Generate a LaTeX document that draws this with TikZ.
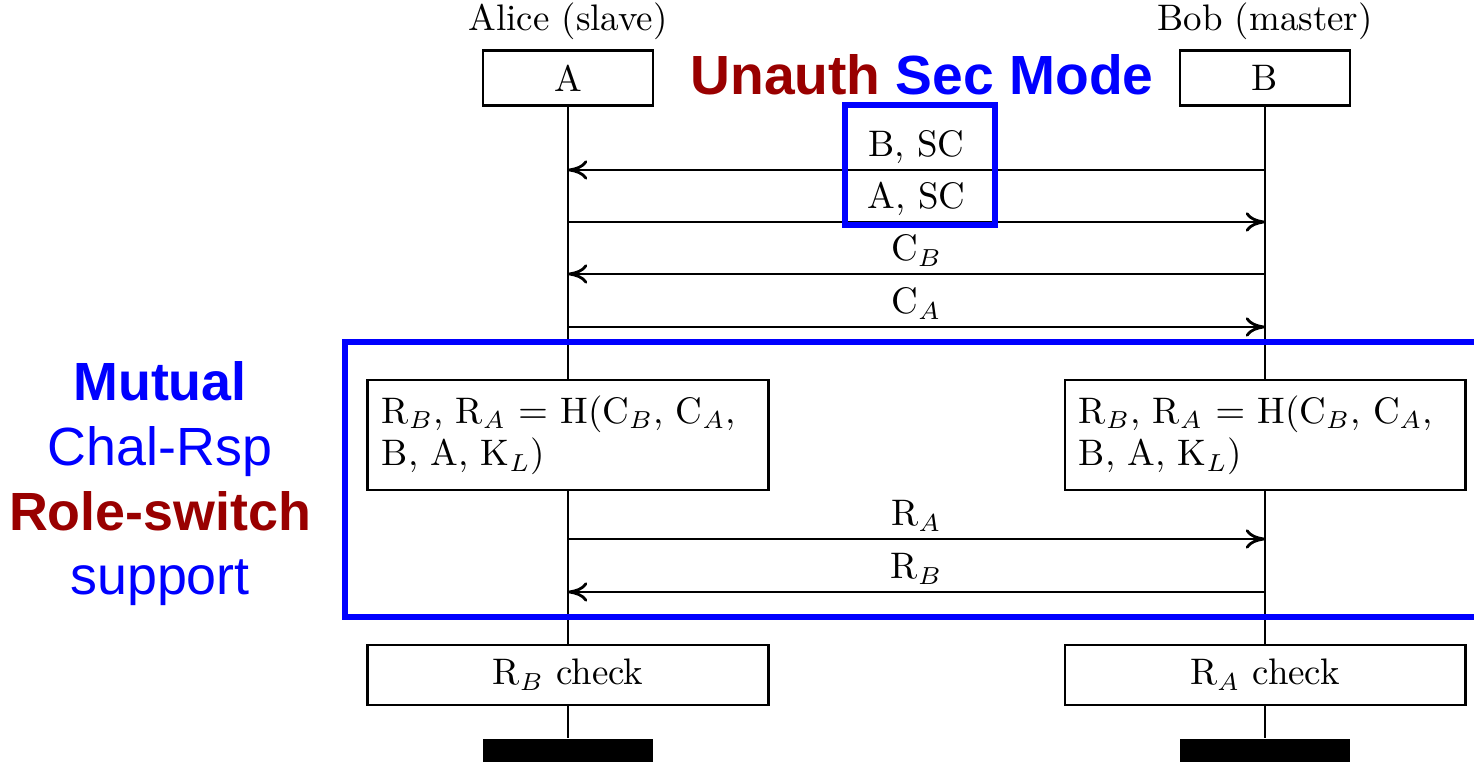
\documentclass[tikz,border=0pt]{standalone}
\usepackage{fontspec}
\newfontfamily\annotfont{Liberation Sans}
\usetikzlibrary{positioning,backgrounds,arrows.meta}
\definecolor{HiBlue}{RGB}{0,0,255}
\definecolor{HiRed}{RGB}{153,0,0}
\tikzset{
  pbox/.style={draw,fill=white,line width=0.8pt,minimum width=1.7cm,
               minimum height=0.55cm},
  cbox/.style={draw,fill=white,line width=0.8pt,minimum width=4cm,
               minimum height=1.1cm,text width=3.72cm,align=left,inner xsep=0.14cm},
  kbox/.style={draw,fill=white,line width=0.8pt,minimum width=4cm,
               minimum height=0.6cm},
  endbar/.style={fill=black,minimum width=1.7cm,minimum height=0.5cm,inner sep=0pt},
  life/.style={line width=0.8pt},
  toB/.style={-{To[length=5.5pt,width=5.5pt]},line width=0.8pt},
  toA/.style={{To[length=5.5pt,width=5.5pt]}-,line width=0.8pt},
  msg/.style={anchor=base,yshift=3.7pt},
  hbox/.style={draw=HiBlue,line width=1.6pt},
  annot/.style={font=\annotfont\fontsize{15.3}{18.4}\selectfont},
}

\begin{document}
\begin{tikzpicture}[x=0.01cm,y=-0.01cm,font=\fontsize{10.5}{12}\selectfont]
    \useasboundingbox (0,0) rectangle (1474,762);
    % actors
    \node[pbox] (A) at (568,78) {A};
    \node[pbox] (B) at (1265,78) {B};
    \node[above=-1pt of A] (alice) {Alice (slave)};
    \node[above=-1pt of B] (bob) {Bob (master)};
    \node[endbar,anchor=north] (Aend) at (568,738) {};
    \node[endbar,anchor=north] (Bend) at (1265,738) {};
    % local steps
    \node[cbox] (Ahash) at (568,435) {R$_B$, R$_A$ $=$ H(C$_B$, C$_A$,\\ B, A, K$_L$)};
    \node[cbox] (Bhash) at (1265,435) {R$_B$, R$_A$ $=$ H(C$_B$, C$_A$,\\ B, A, K$_L$)};
    \node[kbox] (Acheck) at (568,675) {R$_B$ check};
    \node[kbox] (Bcheck) at (1265,675) {R$_A$ check};
    \begin{scope}[on background layer]
      \draw[life] (A) -- (Aend);
      \draw[life] (B) -- (Bend);
    \end{scope}
    % messages
    \foreach \y/\dir/\txt [count=\i] in {170/toA/{B, SC},222/toB/{A, SC},
        274/toA/C$_B$,327/toB/C$_A$,539/toB/R$_A$,592/toA/R$_B$}
      \draw[\dir] (A |- 0,\y) -- node[msg] (m\i) {\txt} (B |- 0,\y);
    % highlights
    \draw[hbox] (845,105) rectangle (995,225);
    \draw[hbox] (345,342) rectangle (1500,617);
    \node[annot,font=\annotfont\bfseries\fontsize{15.7}{18}\selectfont,anchor=base]
      (unauth) at (922,95) {\textcolor{HiRed}{Unauth} \textcolor{HiBlue}{Sec Mode}};
    \node[annot,align=center] (mutual) at (160,484)
      {\textcolor{HiBlue}{\bfseries Mutual}\\ \textcolor{HiBlue}{Chal-Rsp}\\
       \textcolor{HiRed}{\bfseries Role-switch}\\ \textcolor{HiBlue}{support}};
\end{tikzpicture}
\end{document}
